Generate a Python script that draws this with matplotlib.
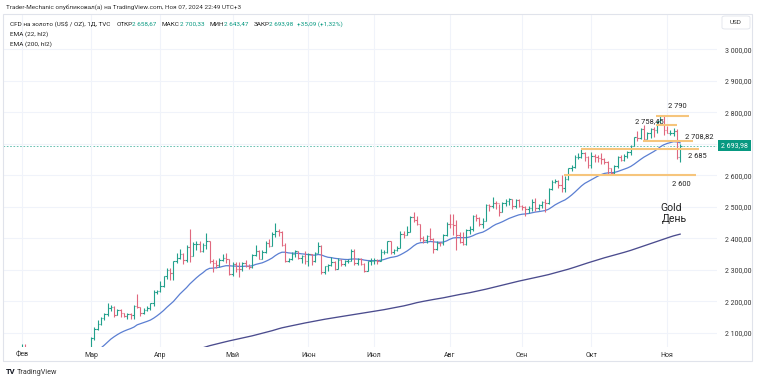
import numpy as np
import matplotlib
matplotlib.use("Agg")
import matplotlib.pyplot as plt
from matplotlib.patches import Rectangle, FancyBboxPatch

plt.rcParams['font.family'] = ['Roboto', 'DejaVu Sans']

# daily bars, Feb 1 .. Nov 7 2024 (TVC gold)
months = ['Фев', 'Мар', 'Апр', 'Май', 'Июн', 'Июл', 'Авг', 'Сен', 'Окт', 'Ноя']
month_bars = [21, 21, 22, 23, 20, 23, 22, 21, 23, 5]

closes = [
    2054, 2039, 2025, 2035, 2034, 2034, 2024, 2020, 1992, 1992, 2004, 2013, 2017, 2024, 2025, 2024, 2035, 2031, 2030, 2034, 2044,
    2083, 2114, 2128, 2148, 2159, 2179, 2182, 2158, 2174, 2162, 2155, 2160, 2157, 2186, 2181, 2165, 2172, 2179, 2194, 2230, 2233,
    2250, 2280, 2300, 2290, 2329, 2339, 2352, 2333, 2372, 2344, 2383, 2383, 2361, 2379, 2392, 2327, 2322, 2316, 2332, 2337, 2336, 2286,
    2320, 2303, 2302, 2323, 2314, 2309, 2346, 2360, 2336, 2358, 2386, 2377, 2415, 2425, 2421, 2379, 2329, 2334, 2351, 2361, 2338, 2343, 2327,
    2350, 2327, 2355, 2375, 2294, 2311, 2316, 2325, 2303, 2333, 2319, 2329, 2329, 2360, 2322, 2334, 2319, 2298, 2327, 2327,
    2332, 2330, 2356, 2356, 2392, 2358, 2364, 2371, 2415, 2411, 2422, 2469, 2458, 2445, 2400, 2396, 2409, 2398, 2365, 2387, 2384, 2410, 2447,
    2446, 2443, 2410, 2390, 2382, 2427, 2431, 2472, 2465, 2447, 2456, 2507, 2504, 2514, 2512, 2484, 2512, 2518, 2524, 2504, 2521, 2503,
    2500, 2493, 2495, 2517, 2497, 2506, 2516, 2512, 2558, 2578, 2582, 2569, 2559, 2587, 2622, 2628, 2657, 2657, 2672, 2658, 2634,
    2662, 2657, 2656, 2653, 2644, 2622, 2608, 2630, 2657, 2649, 2662, 2674, 2693, 2721, 2720, 2748, 2715, 2736, 2747, 2743, 2774, 2788, 2744,
    2736, 2736, 2742, 2659, 2693.98,
]
highs = [
    2065, 2065, 2040, 2038, 2043, 2044, 2038, 2029, 2032, 2000, 2008, 2021, 2022, 2031, 2035, 2034, 2041, 2038, 2040, 2037, 2053,
    2088, 2119, 2141, 2152, 2165, 2195, 2189, 2185, 2177, 2175, 2165, 2164, 2162, 2190, 2223, 2182, 2178, 2185, 2195, 2236, 2236,
    2266, 2282, 2305, 2305, 2330, 2354, 2365, 2355, 2378, 2431, 2390, 2392, 2393, 2385, 2417, 2392, 2335, 2333, 2338, 2352, 2355, 2336,
    2326, 2326, 2324, 2326, 2331, 2319, 2351, 2378, 2362, 2362, 2393, 2398, 2422, 2450, 2431, 2425, 2385, 2338, 2356, 2364, 2361, 2348, 2360,
    2354, 2350, 2358, 2388, 2378, 2312, 2318, 2342, 2329, 2339, 2334, 2333, 2336, 2368, 2368, 2338, 2338, 2321, 2330, 2339,
    2339, 2334, 2365, 2363, 2393, 2392, 2366, 2376, 2424, 2425, 2440, 2471, 2483, 2470, 2446, 2409, 2412, 2432, 2402, 2391, 2390, 2413, 2451,
    2477, 2478, 2460, 2420, 2419, 2431, 2440, 2475, 2477, 2467, 2465, 2509, 2509, 2531, 2520, 2510, 2517, 2525, 2528, 2526, 2524, 2525,
    2507, 2503, 2504, 2524, 2529, 2508, 2518, 2526, 2560, 2586, 2589, 2584, 2600, 2597, 2625, 2634, 2664, 2670, 2685, 2674, 2660,
    2673, 2668, 2665, 2670, 2656, 2645, 2625, 2633, 2661, 2666, 2667, 2677, 2696, 2722, 2740, 2749, 2759, 2737, 2749, 2752, 2774, 2789, 2790,
    2756, 2745, 2750, 2746, 2700.33,
]
lows = [
    2031, 2031, 2014, 2020, 2030, 2023, 2022, 2017, 1990, 1984, 1992, 1996, 2012, 2015, 2020, 2015, 2020, 2025, 2025, 2024, 2031,
    2039, 2078, 2111, 2126, 2141, 2155, 2170, 2150, 2156, 2152, 2152, 2146, 2146, 2146, 2180, 2154, 2160, 2170, 2172, 2186, 2225,
    2229, 2246, 2272, 2268, 2267, 2322, 2335, 2319, 2324, 2326, 2344, 2363, 2358, 2358, 2368, 2321, 2292, 2307, 2308, 2328, 2321, 2285,
    2280, 2295, 2278, 2298, 2309, 2303, 2306, 2343, 2334, 2336, 2353, 2372, 2376, 2406, 2408, 2375, 2325, 2326, 2332, 2340, 2334, 2323, 2319,
    2314, 2315, 2326, 2355, 2287, 2286, 2298, 2312, 2301, 2303, 2311, 2313, 2321, 2328, 2317, 2316, 2315, 2293, 2298, 2317,
    2319, 2318, 2329, 2352, 2353, 2350, 2352, 2359, 2370, 2402, 2410, 2421, 2451, 2443, 2392, 2385, 2385, 2394, 2353, 2364, 2375, 2380, 2407,
    2432, 2410, 2364, 2385, 2380, 2380, 2415, 2425, 2456, 2441, 2433, 2455, 2487, 2498, 2493, 2470, 2483, 2504, 2505, 2494, 2498, 2499,
    2489, 2472, 2482, 2487, 2486, 2490, 2496, 2485, 2510, 2554, 2576, 2560, 2546, 2546, 2584, 2613, 2624, 2651, 2654, 2645, 2624,
    2625, 2642, 2643, 2635, 2636, 2605, 2605, 2603, 2624, 2645, 2646, 2655, 2666, 2692, 2709, 2714, 2708, 2714, 2718, 2723, 2736, 2766, 2729,
    2734, 2727, 2724, 2653, 2643.47,
]
first_open = 2040
last_open = 2658.67
ema22_seed = 2035   # EMA(22, hl2) just before Feb 1
ema200_seed = 1964  # EMA(200, hl2) just before Feb 1

levels = [2790, 2758.45, 2708.82, 2685, 2600]
level_labels = ['2 790', '2 758,45', '2 708,82', '2 685', '2 600']
level_spans = [(192.7, 202.7), (192.7, 199.1), (188.8, 204.0), (169.9, 205.8), (164.7, 204.9)]
level_label_x = [199.1, 190.6, 205.8, 205.2, 200.3]
level_label_dy = [9, 4, 4, -8, -9]  # pixels

closes = np.array(closes, float)
highs = np.array(highs, float)
lows = np.array(lows, float)
opens = np.r_[first_open, closes[:-1]]
opens[-1] = last_open
idx = np.arange(len(closes))
hl2 = (highs + lows) / 2


def ema(src, n, seed):
    a = 2 / (n + 1)
    out = []
    v = seed
    for s in src:
        v = v + a * (s - v)
        out.append(v)
    return np.array(out)


ema22 = ema(hl2, 22, ema22_seed)
ema200 = ema(hl2, 200, ema200_seed)

W, H = 758, 381
fig = plt.figure(figsize=(W / 100, H / 100), dpi=100)
ax = fig.add_axes([3 / W, 1 - 347 / H, 714 / W, 333 / H])

# outer frame
fig.patches.append(Rectangle((3 / W, 1 - 361 / H), 749 / W, 347 / H, transform=fig.transFigure,
                             fill=False, edgecolor='#e0e3eb', linewidth=0.8))

up_col = '#22a08c'
dn_col = '#e0687e'
cols = np.where(closes >= opens, up_col, dn_col)
ax.vlines(idx, lows, highs, colors=cols, linewidth=0.8, zorder=3)
ax.hlines(opens, idx - 0.45, idx, colors=cols, linewidth=0.8, zorder=3)
ax.hlines(closes, idx, idx + 0.45, colors=cols, linewidth=0.8, zorder=3)

ax.plot(idx, ema22, color='#5b7fd2', linewidth=0.9, zorder=2)
ax.plot(idx, ema200, color='#4b4c8e', linewidth=0.95, zorder=2)

# last price line
ax.axhline(closes[-1], color='#089981', linewidth=0.6, linestyle=(0, (2, 2)), alpha=0.7, zorder=1)

# horizontal levels
for lv, (x0, x1), lab, lx, dy in zip(levels, level_spans, level_labels, level_label_x, level_label_dy):
    ax.plot([x0, x1], [lv, lv], color='#f6c57c', linewidth=1.5, zorder=4, solid_capstyle='butt')
    ax.annotate(lab, (lx, lv), xytext=(0, dy * 0.72), textcoords='offset points',
                ha='center', va='center', fontsize=5.4, color='#222222', zorder=5)

fig.text(660 / W, 1 - 208 / H, 'Gold', fontsize=7.6, color='#222222', va='center', ha='left')
fig.text(662 / W, 1 - 219 / H, 'День', fontsize=7.6, color='#222222', va='center', ha='left')

ax.set_xlim(-5.78, 211.2)
ax.set_ylim(2055.6, 3112)

month_starts = np.r_[0, np.cumsum(month_bars)[:-1]]
ax.set_xticks(month_starts)
ax.set_xticklabels(months)
yt = np.arange(2100, 3001, 100)
ax.set_yticks(yt)
# 2700 is hidden behind the last-price tag
ax.set_yticklabels(['' if v == 2700 else f'{v // 1000} {v % 1000:03d},00' for v in yt])
ax.yaxis.tick_right()
ax.tick_params(axis='both', length=0, labelsize=5.0, colors='#333333')
ax.tick_params(axis='y', pad=5.5)
ax.tick_params(axis='x', pad=3.5)
ax.grid(True, color='#f0f3fa', linewidth=0.8, zorder=0)
for sp in ax.spines.values():
    sp.set_visible(False)

# header texts
fig.text(6 / W, 1 - 7 / H, 'Trader-Mechanic опубликовал(а) на TradingView.com, Ноя 07, 2024 22:49 UTC+3',
         fontsize=4.6, color='#333333', va='center')
green = '#089981'
pieces = [('CFD на золото (US$ / OZ), 1Д, TVC', '#222222', 0),
          ('ОТКР', '#222222', 6), ('2 658,67', green, 0),
          ('МАКС', '#222222', 5), ('2 700,33', green, 0),
          ('МИН', '#222222', 5), ('2 643,47', green, 0),
          ('ЗАКР', '#222222', 5), ('2 693,98', green, 0),
          ('+35,09 (+1,32%)', green, 3)]
renderer = fig.canvas.get_renderer()
px = 10
for s, c, gap in pieces:
    px += gap
    t = fig.text(px / W, 1 - 24 / H, s, fontsize=4.6, color=c, va='center')
    px += t.get_window_extent(renderer).width
fig.text(10 / W, 1 - 34 / H, 'EMA (22, hl2)', fontsize=4.6, color='#222222', va='center')
fig.text(10 / W, 1 - 44 / H, 'EMA (200, hl2)', fontsize=4.6, color='#222222', va='center')

# USD box and last price tag
fig.patches.append(FancyBboxPatch((722 / W, 1 - 29 / H), 28 / W, 13 / H, boxstyle='round,pad=0,rounding_size=0.004',
                                  transform=fig.transFigure, facecolor='white', edgecolor='#e0e3eb', linewidth=0.6))
fig.text(736 / W, 1 - 22.5 / H, 'USD', fontsize=4.6, color='#333333', ha='center', va='center')
fig.patches.append(Rectangle((718 / W, 1 - 151 / H), 33 / W, 11 / H, transform=fig.transFigure,
                             facecolor='#089981', edgecolor='none'))
fig.text(734.5 / W, 1 - 145.5 / H, '2 693,98', fontsize=5.0, color='white', ha='center', va='center')

# footer logo
fig.text(6 / W, 1 - 372 / H, 'TV', fontsize=5.5, fontweight='bold', color='#131722', va='center')
fig.text(17 / W, 1 - 372 / H, 'TradingView', fontsize=5.2, color='#333333', va='center')

fig.savefig('out.png', dpi=100, facecolor='white')
